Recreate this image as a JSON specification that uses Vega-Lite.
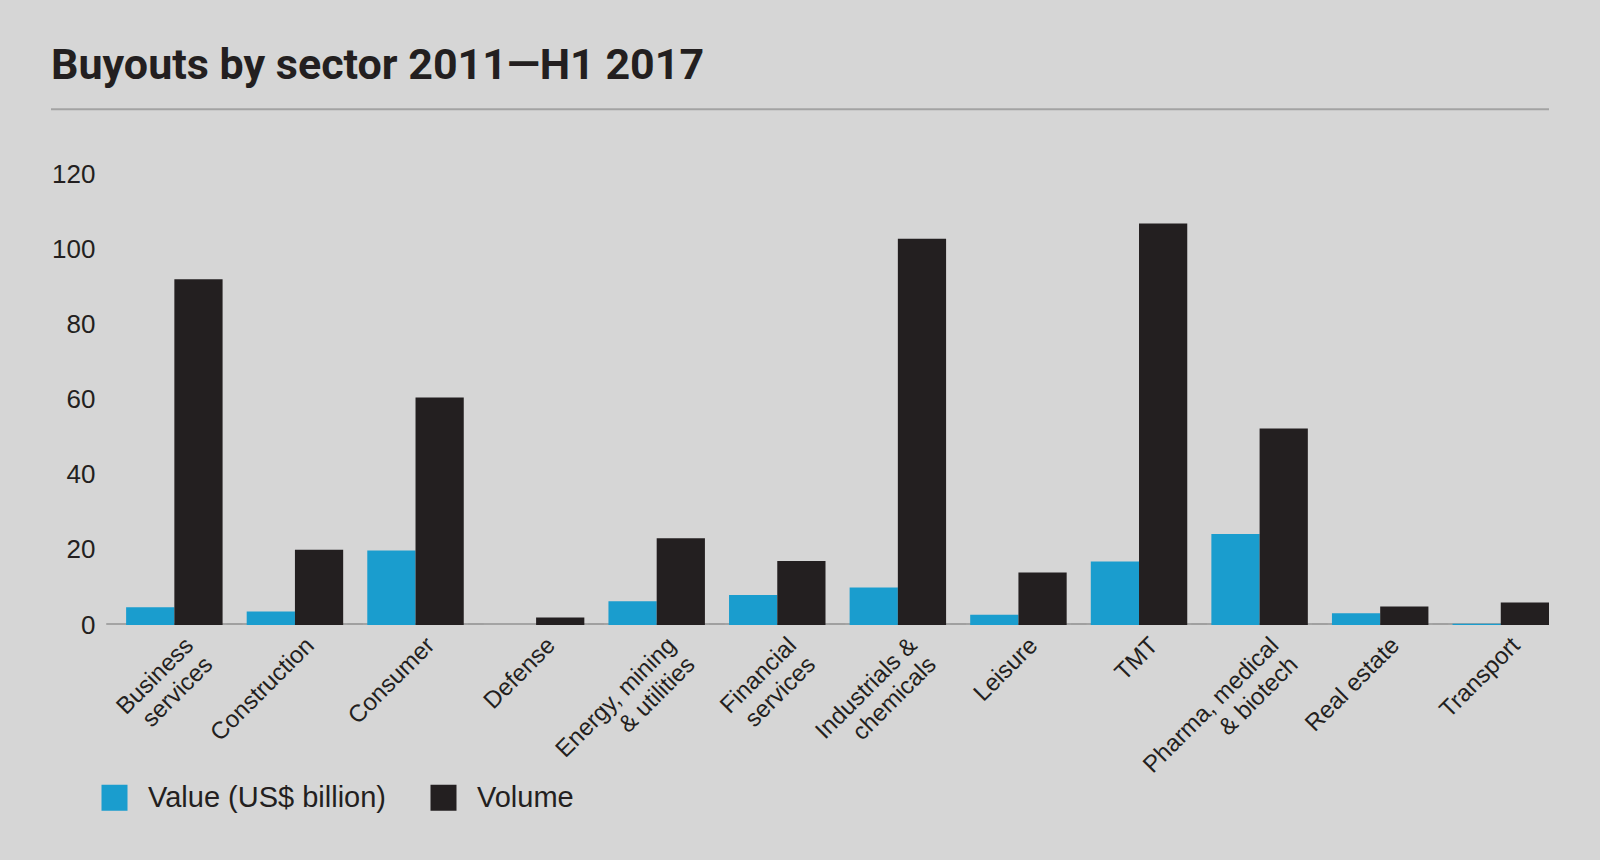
{
  "$schema": "https://vega.github.io/schema/vega-lite/v6.json",
  "width": 1498,
  "height": 451,
  "autosize": {"type": "none"},
  "padding": {"left": 51, "top": 174, "right": 51, "bottom": 235},
  "background": "#d6d6d6",
  "config": {
    "view": {"stroke": null},
    "font": "Liberation Sans",
    "axis": {"labelColor": "#231f20", "titleColor": "#231f20"}
  },
  "title": {
    "text": "Buyouts by sector 2011—H1 2017",
    "font": "Roboto",
    "fontSize": 43,
    "fontWeight": "bold",
    "color": "#231f20",
    "anchor": "start",
    "frame": "group",
    "baseline": "alphabetic",
    "offset": 26,
    "dy": 40
  },
  "data": {
    "values": [
      {"sector": "Business services", "series": "Value (US$ billion)", "amount": 4.7},
      {"sector": "Business services", "series": "Volume", "amount": 92},
      {"sector": "Construction", "series": "Value (US$ billion)", "amount": 3.6},
      {"sector": "Construction", "series": "Volume", "amount": 20},
      {"sector": "Consumer", "series": "Value (US$ billion)", "amount": 19.8},
      {"sector": "Consumer", "series": "Volume", "amount": 60.5},
      {"sector": "Defense", "series": "Value (US$ billion)", "amount": 0},
      {"sector": "Defense", "series": "Volume", "amount": 2},
      {"sector": "Energy, mining & utilities", "series": "Value (US$ billion)", "amount": 6.3},
      {"sector": "Energy, mining & utilities", "series": "Volume", "amount": 23.1},
      {"sector": "Financial services", "series": "Value (US$ billion)", "amount": 8},
      {"sector": "Financial services", "series": "Volume", "amount": 17},
      {"sector": "Industrials & chemicals", "series": "Value (US$ billion)", "amount": 10},
      {"sector": "Industrials & chemicals", "series": "Volume", "amount": 102.8},
      {"sector": "Leisure", "series": "Value (US$ billion)", "amount": 2.7},
      {"sector": "Leisure", "series": "Volume", "amount": 14},
      {"sector": "TMT", "series": "Value (US$ billion)", "amount": 16.9},
      {"sector": "TMT", "series": "Volume", "amount": 106.8},
      {"sector": "Pharma, medical & biotech", "series": "Value (US$ billion)", "amount": 24.2},
      {"sector": "Pharma, medical & biotech", "series": "Volume", "amount": 52.3},
      {"sector": "Real estate", "series": "Value (US$ billion)", "amount": 3.1},
      {"sector": "Real estate", "series": "Volume", "amount": 4.9},
      {"sector": "Transport", "series": "Value (US$ billion)", "amount": 0.3},
      {"sector": "Transport", "series": "Volume", "amount": 6}
    ]
  },
  "layer": [
    {
      "data": {"values": [{"line": "top"}]},
      "mark": {"type": "rule", "color": "#a3a3a3", "strokeWidth": 2},
      "encoding": {
        "y": {
          "datum": 137.2, "type": "quantitative", "scale": {"domain": [0, 120]},
          "axis": {"title": null, "domain": false, "ticks": false, "grid": false, "values": [0, 20, 40, 60, 80, 100, 120], "labelFontSize": 26, "labelPadding": 12, "offset": -56}
        }
      }
    },
    {
      "mark": {"type": "tick", "color": "#a0a0a0", "thickness": 2, "size": 136, "clip": true},
      "encoding": {
        "x": {
          "field": "sector", "type": "nominal", "sort": null,
          "scale": {"paddingInner": 0.2, "paddingOuter": 0.3115, "align": 1},
          "axis": {
            "title": null, "domain": false, "ticks": false, "labelAngle": -45, "labelFontSize": 24,
            "labelPadding": 8, "labelOffset": 7, "labelLimit": 400, "labelLineHeight": 27, "labelOverlap": false,
            "labelExpr": "datum.label == 'Business services' ? ['Business','services'] : datum.label == 'Energy, mining & utilities' ? ['Energy, mining','& utilities'] : datum.label == 'Financial services' ? ['Financial','services'] : datum.label == 'Industrials & chemicals' ? ['Industrials &','chemicals'] : datum.label == 'Pharma, medical & biotech' ? ['Pharma, medical','& biotech'] : datum.label"
          }
        },
        "y": {
          "datum": 0.25, "type": "quantitative", "scale": {"domain": [0, 120]},
          "axis": {"title": null, "domain": false, "ticks": false, "grid": false, "values": [0, 20, 40, 60, 80, 100, 120], "labelFontSize": 26, "labelPadding": 12, "offset": -56}
        }
      }
    },
    {
      "mark": {"type": "bar"},
      "encoding": {
        "x": {
          "field": "sector", "type": "nominal", "sort": null,
          "scale": {"paddingInner": 0.2, "paddingOuter": 0.3115, "align": 1},
          "axis": {
            "title": null, "domain": false, "ticks": false, "labelAngle": -45, "labelFontSize": 24,
            "labelPadding": 8, "labelOffset": 7, "labelLimit": 400, "labelLineHeight": 27, "labelOverlap": false,
            "labelExpr": "datum.label == 'Business services' ? ['Business','services'] : datum.label == 'Energy, mining & utilities' ? ['Energy, mining','& utilities'] : datum.label == 'Financial services' ? ['Financial','services'] : datum.label == 'Industrials & chemicals' ? ['Industrials &','chemicals'] : datum.label == 'Pharma, medical & biotech' ? ['Pharma, medical','& biotech'] : datum.label"
          }
        },
        "xOffset": {
          "field": "series", "type": "nominal",
          "scale": {"domain": ["Value (US$ billion)", "Volume"], "paddingInner": 0, "paddingOuter": 0}
        },
        "y": {
          "field": "amount", "type": "quantitative",
          "scale": {"domain": [0, 120]},
          "axis": {"title": null, "domain": false, "ticks": false, "grid": false, "values": [0, 20, 40, 60, 80, 100, 120], "labelFontSize": 26, "labelPadding": 12, "offset": -56}
        },
        "color": {
          "field": "series", "type": "nominal",
          "scale": {"domain": ["Value (US$ billion)", "Volume"], "range": ["#1a9dce", "#231f20"]},
          "legend": {
            "orient": "none",
            "direction": "horizontal",
            "legendX": 49,
            "legendY": 609,
            "title": null,
            "padding": 0,
            "symbolType": "square",
            "symbolSize": 676,
            "symbolStrokeWidth": 0,
            "labelFontSize": 29,
            "labelLimit": 500,
            "labelColor": "#231f20",
            "labelOffset": 19,
            "columnPadding": 42
          }
        }
      }
    }
  ]
}
